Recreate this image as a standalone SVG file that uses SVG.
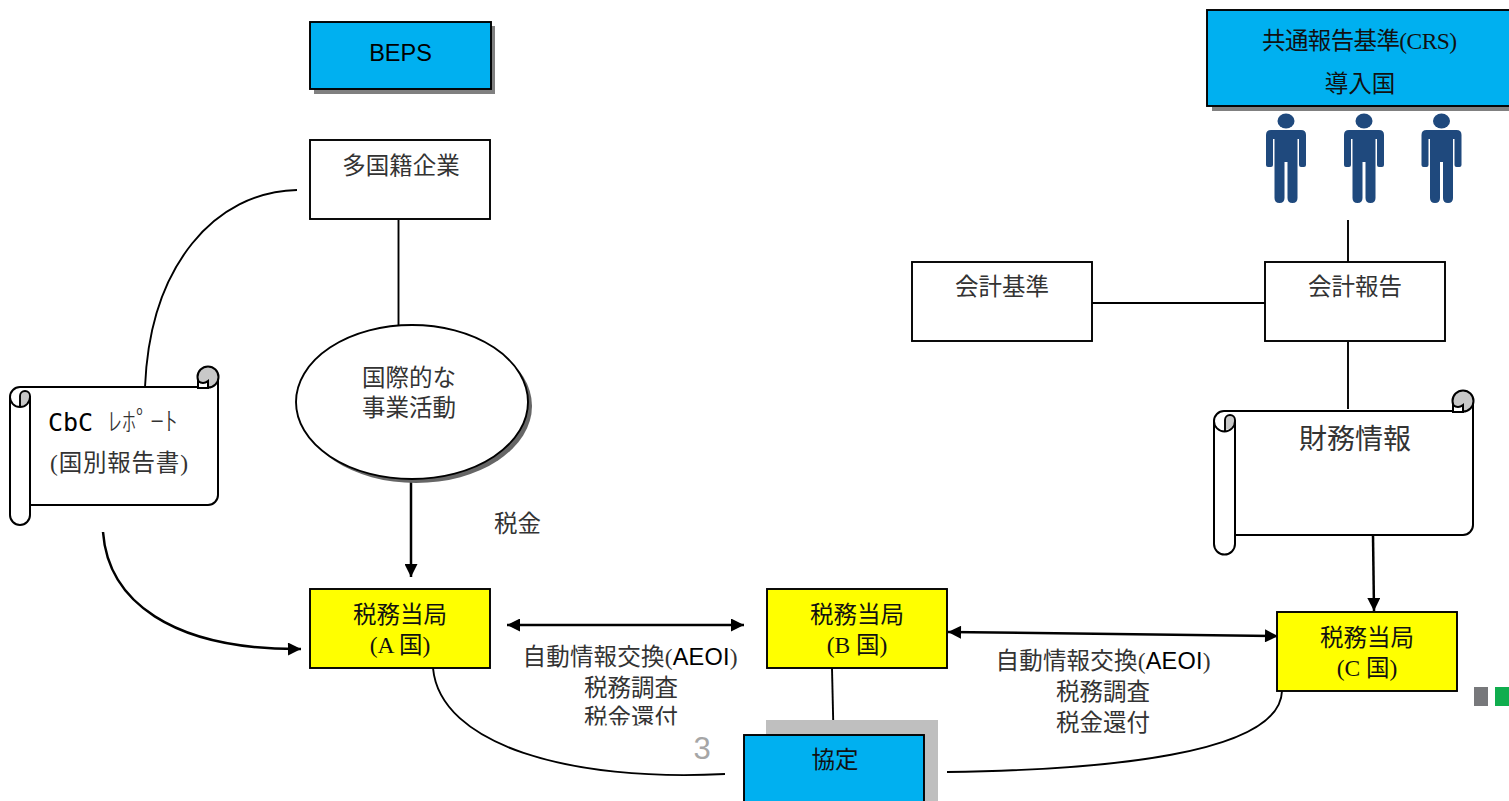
<svg xmlns="http://www.w3.org/2000/svg" width="1509" height="801" viewBox="0 0 1509 801">
<style>
.box{stroke:#000;stroke-width:1.9}
.w{fill:#fff}.b{fill:#00b0f0}.y{fill:#ffff00}
.sh{fill:#808080}
.t{font-family:"Liberation Serif","Noto Sans CJK JP",serif;font-size:23.5px;fill:#333;text-anchor:middle}
.d{fill:#111}
.s{font-family:"Liberation Sans","Noto Sans CJK JP",sans-serif;fill:#000}
.a{font-family:"Liberation Sans","Noto Sans CJK JP",sans-serif;font-size:23.5px;fill:#000;text-anchor:middle}
.c{fill:none;stroke:#000;stroke-width:1.9}
.c2{fill:none;stroke:#000;stroke-width:2.5}
.scroll{fill:#fff;stroke:#000;stroke-width:2;stroke-linejoin:round}
.curl{fill:#c8c8c8;stroke:#000;stroke-width:2}
.notch{fill:#fff;stroke:#000;stroke-width:2}
.gr{fill:#c8c8c8;stroke:none}
.p{fill:#1f497d}
</style>
<defs>
<marker id="ah" viewBox="0 0 10 10" refX="10" refY="5" markerWidth="14" markerHeight="13" markerUnits="userSpaceOnUse" orient="auto-start-reverse"><path d="M0,0L10,5L0,10z" fill="#000"/></marker>
<clipPath id="clip1"><rect x="500" y="640" width="260" height="85.5"/></clipPath>
<g id="man">
<ellipse cx="0" cy="8" rx="8.500" ry="7.500" class="p"/>
<path class="p" d="M-20,22q0,-5 5,-5H15q5,0 5,5V52q0,2 -2,2h-3q-2,0 -2,-2V26h-1.500V85q0,5 -5,5q-5,0 -5,-5V49h-3V85q0,5 -5,5q-5,0 -5,-5V26h-1.500V52q0,2 -2,2h-3q-2,0 -2,-2z"/>
</g>
<g id="scrollcap">
<circle class="curl" cx="10" cy="-10" r="10.500"/>
<path class="notch" d="M0,-6q5,4 10,0V1H0z"/>
</g>
</defs>

<g id="connectors">
<path class="c" d="M398.500,220V326"/>
<path class="c" d="M297,190C215,192 150,265 145,387"/>
<path class="c2" d="M411,480V577" marker-end="url(#ah)"/>
<path class="c2" d="M103,532C108,600 170,650 301,649" marker-end="url(#ah)"/>
<path class="c2" d="M507,625H744" marker-start="url(#ah)" marker-end="url(#ah)"/>
<path class="c2" d="M948,632L1278,636" marker-start="url(#ah)" marker-end="url(#ah)"/>
<path class="c2" d="M1373,535L1374,611" marker-end="url(#ah)"/>
<path class="c" d="M1348,220V262"/>
<path class="c" d="M1092,303H1265"/>
<path class="c" d="M1348,342V409"/>
<path class="c" d="M433,668C440,745 570,782 725,774"/>
<path class="c" d="M832,668L833.500,734"/>
<path class="c" d="M947,772C1100,770 1280,755 1282,691"/>
</g>

<g id="beps"><rect class="sh" x="314" y="26" width="181" height="68"/><rect class="box b" x="310" y="22" width="181" height="67"/><text class="a" x="400.500" y="61">BEPS</text></g>
<g id="mne"><rect class="box w" x="310" y="140" width="180" height="79"/><text class="t" x="401" y="174">多国籍企業</text></g>
<g id="activity"><ellipse cx="416" cy="406" rx="116" ry="77" fill="#666"/><ellipse class="box w" cx="412" cy="402" rx="116" ry="77"/><text class="t" x="409" y="386">国際的な</text><text class="t" x="409" y="416">事業活動</text></g>
<g id="cbc">
<path class="scroll" d="M30,505H208a10,10 0 0 0 10,-10V377H198V387H20a10,10 0 0 0 -10,10V515a10,10 0 0 0 20,0V396"/>
<use href="#scrollcap" x="198" y="387"/>
<path class="gr" d="M20,406V396a5,5 0 0 1 10,0V397a10,10 0 0 1 -10,9z"/>
<path class="c" d="M10,397a10,10 0 0 0 20,0V396a5,5 0 0 0 -10,0V407"/>
<text x="70.500" y="431" style="font-family:'DejaVu Sans Mono',monospace;font-size:25px;fill:#000" text-anchor="middle">CbC</text>
<text class="t" x="143" y="431" style="font-size:26px;font-family:'Noto Sans CJK JP',sans-serif;font-weight:300" textLength="70" lengthAdjust="spacingAndGlyphs">ﾚﾎﾟｰﾄ</text>
<text class="t" x="119" y="471" textLength="138">(国別報告書)</text>
</g>
<g id="zeikin"><text class="t" x="517.500" y="532">税金</text></g>
<g id="authA"><rect class="box y" x="310" y="589" width="180" height="79"/><text class="t d" x="400" y="623">税務当局</text><text class="t d" x="400" y="653">(A 国)</text></g>
<g id="authB"><rect class="box y" x="767" y="589" width="180" height="79"/><text class="t d" x="857" y="623">税務当局</text><text class="t d" x="857" y="653">(B 国)</text></g>
<g id="authC"><rect class="box y" x="1277" y="612" width="180" height="79"/><text class="t d" x="1367" y="646">税務当局</text><text class="t d" x="1367" y="676">(C 国)</text></g>
<g id="label1" clip-path="url(#clip1)"><text class="t" x="630" y="665" textLength="215">自動情報交換(<tspan class="s">AEOI</tspan>)</text><text class="t" x="631" y="696">税務調査</text><text class="t" x="631" y="726">税金還付</text></g>
<g id="label2"><text class="t" x="1103" y="669" textLength="215">自動情報交換(<tspan class="s">AEOI</tspan>)</text><text class="t" x="1103" y="700">税務調査</text><text class="t" x="1103" y="731">税金還付</text></g>
<g id="kyotei"><rect x="766" y="720" width="172" height="81" fill="#bfbfbf"/><rect class="box b" x="744" y="735" width="180" height="70"/><text class="t d" x="835" y="768">協定</text></g>
<g id="page3"><text x="702" y="759" style="font-family:'Liberation Sans',sans-serif;font-size:31px;fill:#a6a6a6" text-anchor="middle">3</text></g>
<g id="crs"><rect class="sh" x="1212" y="14" width="297" height="97"/><rect class="box b" x="1207" y="10" width="303" height="96"/><text class="t d" x="1359.500" y="49" textLength="195">共通報告基準(CRS)</text><text class="t d" x="1360" y="92">導入国</text></g>
<g id="people"><use href="#man" x="1286" y="113"/><use href="#man" x="1364" y="113"/><use href="#man" x="1441.500" y="113"/></g>
<g id="accstd"><rect class="box w" x="912" y="262" width="180" height="79"/><text class="t" x="1002" y="295">会計基準</text></g>
<g id="accrep"><rect class="box w" x="1265" y="262" width="180" height="79"/><text class="t" x="1355" y="295">会計報告</text></g>
<g id="fin">
<path class="scroll" d="M1235,535H1463a10,10 0 0 0 10,-10V401H1453V411H1224a10,10 0 0 0 -10,10V544a10.500,10.500 0 0 0 21,0V420"/>
<use href="#scrollcap" x="1453" y="411"/>
<path class="gr" d="M1225,430V420a5,5 0 0 1 10,0V421a10.500,10.500 0 0 1 -10,9z"/>
<path class="c" d="M1214,421a10.500,10.500 0 0 0 21,0V420a5,5 0 0 0 -10,0V431"/>
<text class="t" x="1355" y="449" style="font-size:28px">財務情報</text>
</g>
<g id="squares"><rect x="1474" y="687" width="14" height="19" fill="#77787b"/><rect x="1495" y="687" width="14" height="19" fill="#10ad4e"/></g>
</svg>
